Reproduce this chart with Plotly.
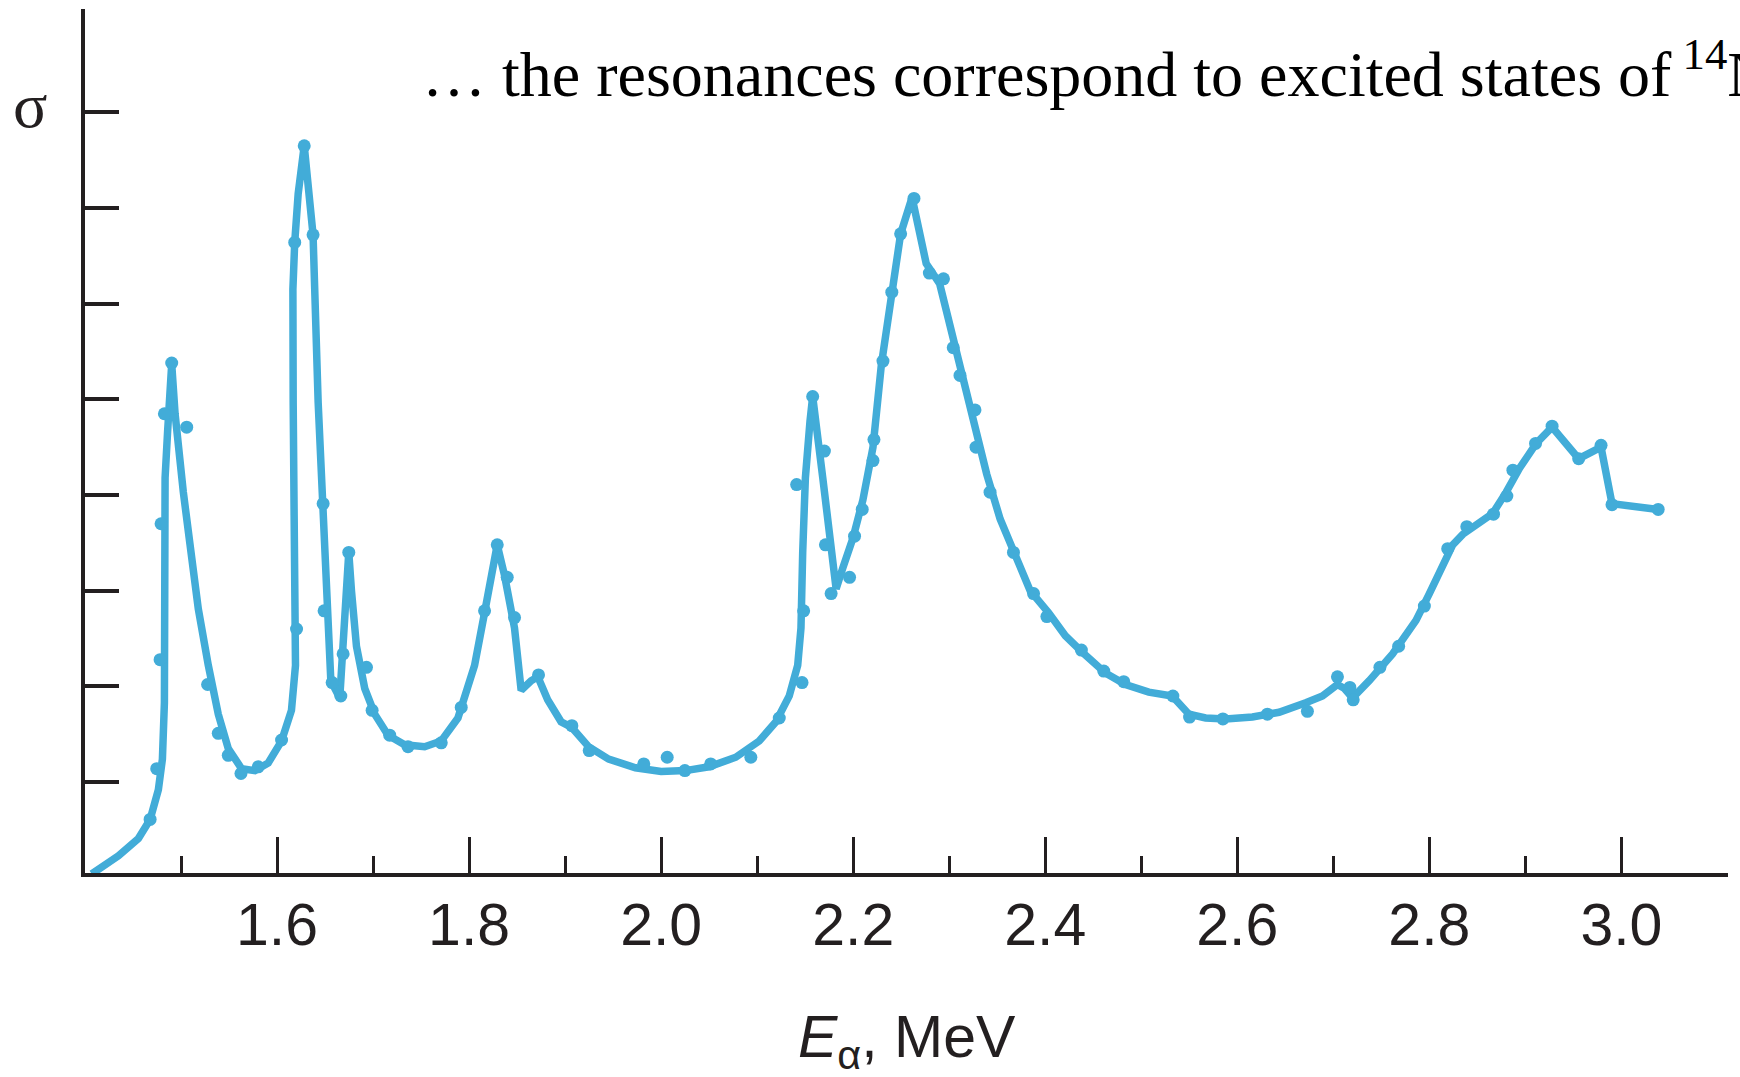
import plotly.graph_objects as go

# ---- data ----
# measured points (dots)
pts_E = [1.4678, 1.4747, 1.4782, 1.4792, 1.4827, 1.4903, 1.5059, 1.5277, 1.5388, 1.5492,
         1.5624, 1.5804, 1.6047, 1.6203, 1.6184, 1.6283, 1.6375, 1.648, 1.649, 1.6574,
         1.6664, 1.6688, 1.6747, 1.6931, 1.699, 1.7173, 1.7364, 1.771, 1.7918, 1.8161,
         1.8293, 1.8397, 1.8473, 1.8723, 1.907, 1.9251, 1.9819, 2.0063, 2.0247, 2.0516,
         2.0934, 2.123, 2.1411, 2.1467, 2.1484, 2.1578, 2.170, 2.1711, 2.177, 2.1962,
         2.2014, 2.2094, 2.2206, 2.2216, 2.231, 2.2402, 2.2494, 2.2633, 2.2793, 2.294,
         2.3042, 2.3112, 2.3268, 2.3279, 2.3425, 2.3669, 2.3878, 2.4017, 2.4376, 2.4609,
         2.4817, 2.5329, 2.5503, 2.585, 2.6313, 2.673, 2.7043, 2.7172, 2.7207, 2.7485,
         2.768, 2.7948, 2.8191, 2.839, 2.8668, 2.8807, 2.887, 2.9106, 2.9278, 2.9555,
         2.9788, 2.9902, 3.0383]
pts_sigma = [0.61, 1.14, 2.28, 3.70, 4.85, 5.38, 4.71, 2.02, 1.51, 1.28,
             1.09, 1.16, 1.44, 2.60, 6.64, 7.65, 6.72, 3.91, 2.79, 2.04,
             1.90, 2.34, 3.40, 2.20, 1.75, 1.49, 1.37, 1.41, 1.78, 2.79,
             3.48, 3.14, 2.72, 2.12, 1.59, 1.33, 1.19, 1.26, 1.12, 1.19,
             1.26, 1.67, 4.11, 2.04, 2.79, 5.03, 4.46, 3.48, 2.97, 3.14,
             3.57, 3.85, 4.36, 4.58, 5.40, 6.12, 6.73, 7.10, 6.32, 6.26,
             5.54, 5.25, 4.89, 4.50, 4.03, 3.40, 2.97, 2.73, 2.38, 2.16,
             2.05, 1.90, 1.68, 1.66, 1.71, 1.74, 2.10, 1.99, 1.86, 2.20,
             2.42, 2.84, 3.44, 3.67, 3.80, 3.99, 4.26, 4.54, 4.72, 4.38,
             4.52, 3.90, 3.85]

# drawn curve through the points
curve_E = [1.407, 1.4348, 1.4556, 1.4678, 1.4764, 1.4806, 1.4827, 1.4827, 1.4834, 1.486,
           1.4903, 1.4938, 1.4972, 1.5024, 1.5094, 1.518, 1.5284, 1.5388, 1.5492, 1.5631,
           1.577, 1.5908, 1.6047, 1.615, 1.6192, 1.6192, 1.6178, 1.6168, 1.6165, 1.6184,
           1.622, 1.6283, 1.6375, 1.6428, 1.648, 1.6515, 1.656, 1.6653, 1.6747, 1.6775,
           1.6827, 1.6913, 1.7017, 1.7156, 1.7329, 1.7537, 1.771, 1.7884, 1.8057, 1.8161,
           1.8248, 1.8293, 1.8369, 1.8473, 1.8542, 1.8646, 1.8716, 1.8818, 1.8958, 1.907,
           1.9244, 1.9453, 1.9732, 2.0, 2.0254, 2.0498, 2.0777, 2.1021, 2.1195, 2.1334,
           2.1422, 2.1456, 2.1474, 2.1502, 2.155, 2.1578, 2.1683, 2.1753, 2.1822, 2.1892,
           2.1997, 2.2101, 2.2206, 2.2293, 2.238, 2.2494, 2.2613, 2.276, 2.290, 2.3042,
           2.3146, 2.3268, 2.339, 2.353, 2.3669, 2.3843, 2.4035, 2.4209, 2.4383, 2.4626,
           2.4835, 2.5078, 2.5322, 2.5391, 2.5496, 2.567, 2.5878, 2.6157, 2.6435, 2.6713,
           2.6887, 2.7043, 2.7113, 2.72, 2.7374, 2.7617, 2.7861, 2.8, 2.8139, 2.8243,
           2.8348, 2.8522, 2.8661, 2.88, 2.8939, 2.9113, 2.9278, 2.9555, 2.9788, 2.9902,
           3.0085, 3.0383]
curve_sigma = [0.04, 0.23, 0.41, 0.61, 0.92, 1.24, 1.83, 3.00, 4.18, 4.66,
               5.37, 4.85, 4.50, 4.03, 3.48, 2.81, 2.22, 1.71, 1.35, 1.14,
               1.12, 1.20, 1.43, 1.75, 2.22, 2.61, 3.79, 4.97, 6.15, 6.64,
               7.15, 7.65, 6.72, 4.97, 3.91, 2.81, 2.06, 1.88, 3.40, 3.00,
               2.42, 1.98, 1.71, 1.49, 1.39, 1.37, 1.43, 1.67, 2.22, 2.77,
               3.28, 3.48, 3.16, 2.61, 1.96, 2.06, 2.10, 1.86, 1.63, 1.57,
               1.37, 1.24, 1.15, 1.11, 1.12, 1.16, 1.26, 1.43, 1.63, 1.90,
               2.22, 2.61, 3.40, 4.18, 4.77, 5.03, 4.18, 3.59, 3.02, 3.24,
               3.55, 3.95, 4.50, 5.36, 5.95, 6.73, 7.11, 6.42, 6.21, 5.64,
               5.25, 4.73, 4.22, 3.75, 3.40, 3.00, 2.77, 2.53, 2.36, 2.14,
               2.02, 1.94, 1.90, 1.83, 1.71, 1.67, 1.66, 1.68, 1.73, 1.83,
               1.90, 2.02, 1.98, 1.88, 2.06, 2.34, 2.69, 2.97, 3.28, 3.48,
               3.59, 3.71, 3.81, 4.03, 4.28, 4.54, 4.71, 4.38, 4.50, 3.91,
               3.88, 3.85]

x_tickvals = [1.6, 1.8, 2.0, 2.2, 2.4, 2.6, 2.8, 3.0]
x_ticktext = ["1.6", "1.8", "2.0", "2.2", "2.4", "2.6", "2.8", "3.0"]
x_minorvals = [1.5, 1.7, 1.9, 2.1, 2.3, 2.5, 2.7, 2.9]
y_tickvals = [1, 2, 3, 4, 5, 6, 7, 8]

BLUE = "#42acd8"
INK = "#231f20"

fig = go.Figure()
fig.add_trace(go.Scatter(x=curve_E, y=curve_sigma, mode="lines",
                         line=dict(color=BLUE, width=7.5), hoverinfo="skip",
                         showlegend=False))
fig.add_trace(go.Scatter(x=pts_E, y=pts_sigma, mode="markers",
                         marker=dict(color=BLUE, size=13), showlegend=False))

fig.update_layout(
    width=1740, height=1077,
    margin=dict(l=85, r=12, t=9, b=204),
    paper_bgcolor="white", plot_bgcolor="white",
    xaxis=dict(range=[1.4, 3.111], showgrid=False, zeroline=False,
               showline=True, linecolor=INK, linewidth=4,
               tickmode="array", tickvals=x_tickvals, ticktext=x_ticktext,
               ticks="inside", ticklen=36, tickwidth=3, tickcolor=INK,
               ticklabelstandoff=-3,
               tickfont=dict(family="Liberation Sans, Arial", size=59, color=INK),
               minor=dict(tickmode="array", tickvals=x_minorvals, ticks="inside",
                          ticklen=17, tickwidth=3, tickcolor=INK)),
    yaxis=dict(range=[0.05, 9.08], showgrid=False, zeroline=False,
               showline=True, linecolor=INK, linewidth=4,
               tickmode="array", tickvals=y_tickvals, showticklabels=False,
               ticks="inside", ticklen=34, tickwidth=4, tickcolor=INK),
)

# y-axis symbol
fig.add_annotation(x=(30 - 85) / 1643, y=(873 - 105) / 864, xref="paper", yref="paper",
                   text="σ", showarrow=False, xanchor="center", yanchor="middle",
                   font=dict(family="Liberation Serif, Times New Roman", size=64, color=INK))
# caption at the top (runs off the right edge as in the original)
fig.add_annotation(x=(419.5 - 85) / 1643, y=8.445, xref="paper", yref="y",
                   text="… the resonances correspond to excited states of<sup> 14</sup>N",
                   showarrow=False, xanchor="left", yanchor="middle",
                   font=dict(family="Liberation Serif, Times New Roman", size=64, color="black"))
# x-axis title
fig.add_annotation(x=0.5, y=(873 - 1041) / 864, xref="paper", yref="paper",
                   text="<i>E</i><sub>α</sub>, MeV",
                   showarrow=False, xanchor="center", yanchor="middle",
                   font=dict(family="Liberation Sans, Arial", size=59, color=INK))

fig.write_html("out.html", config={"displayModeBar": False},
               post_script="document.body.style.margin='0';document.body.style.overflow='hidden';")
